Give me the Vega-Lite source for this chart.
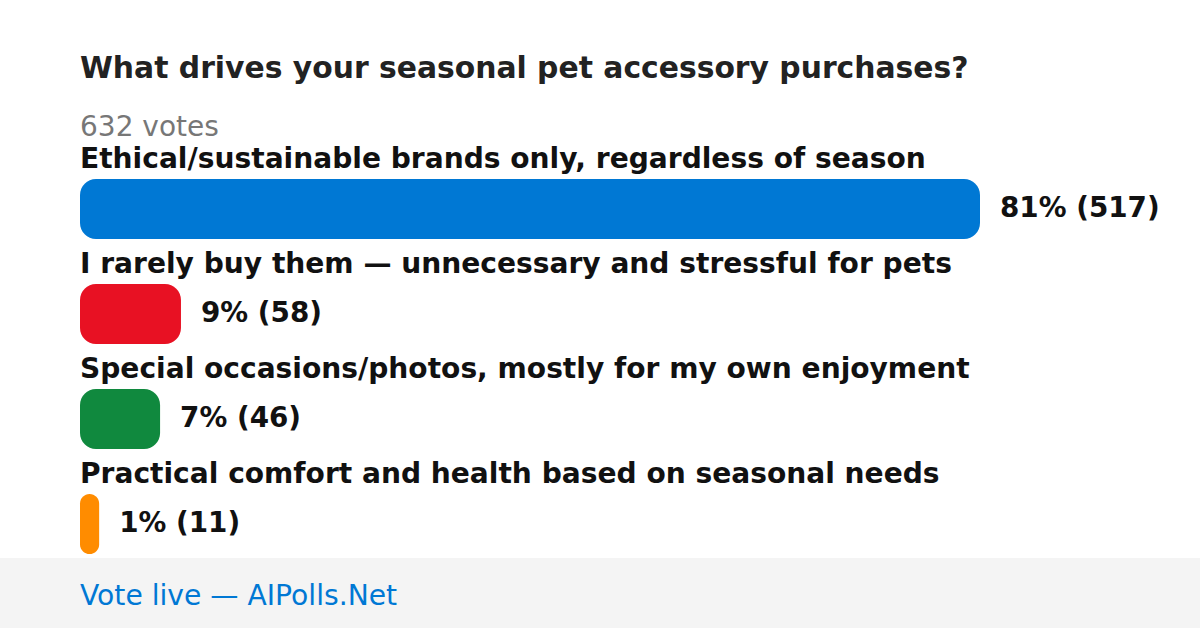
{
  "$schema": "https://vega.github.io/schema/vega-lite/v6.json",
  "width": 1200,
  "height": 628,
  "autosize": {"type": "fit", "contains": "padding"},
  "padding": {"top": 54, "left": 0, "right": 0, "bottom": 0},
  "background": "#ffffff",
  "title": {
    "text": "What drives your seasonal pet accessory purchases?",
    "subtitle": "632 votes",
    "anchor": "start",
    "frame": "group",
    "dx": 80,
    "baseline": "top",
    "font": "DejaVu Sans",
    "fontSize": 29.8,
    "fontWeight": "bold",
    "color": "#222222",
    "subtitleFont": "DejaVu Sans",
    "subtitleFontSize": 28,
    "subtitleColor": "#777777",
    "subtitlePadding": 30,
    "offset": 4
  },
  "config": {"view": {"stroke": null}},
  "data": {
    "values": [
      {"option": "Ethical/sustainable brands only, regardless of season", "votes": 517, "pct": 81},
      {"option": "I rarely buy them — unnecessary and stressful for pets", "votes": 58, "pct": 9},
      {"option": "Special occasions/photos, mostly for my own enjoyment", "votes": 46, "pct": 7},
      {"option": "Practical comfort and health based on seasonal needs", "votes": 11, "pct": 1}
    ]
  },
  "transform": [
    {"calculate": "datum.pct + '% (' + datum.votes + ')'", "as": "label"}
  ],
  "encoding": {
    "y": {
      "field": "option",
      "type": "nominal",
      "axis": null,
      "sort": null,
      "scale": {
        "domain": [
          "Ethical/sustainable brands only, regardless of season",
          "I rarely buy them — unnecessary and stressful for pets",
          "Special occasions/photos, mostly for my own enjoyment",
          "Practical comfort and health based on seasonal needs"
        ],
        "range": [0, 405],
        "paddingInner": 0.142857,
        "paddingOuter": 0
      }
    }
  },
  "layer": [
    {
      "data": {"values": [{"footer": "Vote live — AIPolls.Net"}]},
      "mark": {"type": "rect", "color": "#f4f4f4", "yOffset": -70},
      "encoding": {
        "y": {"value": "height"},
        "y2": {"value": "height"},
        "x": {"value": 0},
        "x2": {"value": "width"}
      }
    },
    {
      "data": {"values": [{"footer": "Vote live — AIPolls.Net"}]},
      "mark": {"type": "text", "align": "left", "baseline": "alphabetic", "dy": -23, "font": "DejaVu Sans", "fontSize": 28.2, "color": "#0078d4"},
      "encoding": {
        "y": {"value": "height"},
        "x": {"value": 80},
        "text": {"field": "footer"}
      }
    },
    {
      "mark": {"type": "bar", "height": 60, "yOffset": 15, "cornerRadius": 16},
      "encoding": {
        "x": {
          "field": "votes",
          "type": "quantitative",
          "axis": null,
          "stack": null,
          "scale": {"domain": [-45.9556, 643.3778], "zero": false, "nice": false}
        },
        "x2": {"datum": 0},
        "color": {
          "field": "option",
          "type": "nominal",
          "legend": null,
          "scale": {
            "domain": [
              "Ethical/sustainable brands only, regardless of season",
              "I rarely buy them — unnecessary and stressful for pets",
              "Special occasions/photos, mostly for my own enjoyment",
              "Practical comfort and health based on seasonal needs"
            ],
            "range": ["#0078d4", "#e81123", "#10893e", "#ff8c00"]
          }
        }
      }
    },
    {
      "mark": {"type": "text", "align": "left", "baseline": "alphabetic", "dy": 19, "font": "DejaVu Sans", "fontSize": 28.1, "fontWeight": "bold", "color": "#111111"},
      "encoding": {
        "x": {"datum": 0, "type": "quantitative"},
        "y": {"field": "option", "type": "nominal", "bandPosition": 0},
        "text": {"field": "option"}
      }
    },
    {
      "mark": {"type": "text", "align": "left", "baseline": "middle", "dx": 20, "font": "DejaVu Sans", "fontSize": 27.8, "fontWeight": "bold", "color": "#111111"},
      "encoding": {
        "x": {"field": "votes", "type": "quantitative"},
        "y": {"field": "option", "type": "nominal", "bandPosition": 0.66667},
        "text": {"field": "label"}
      }
    }
  ]
}
